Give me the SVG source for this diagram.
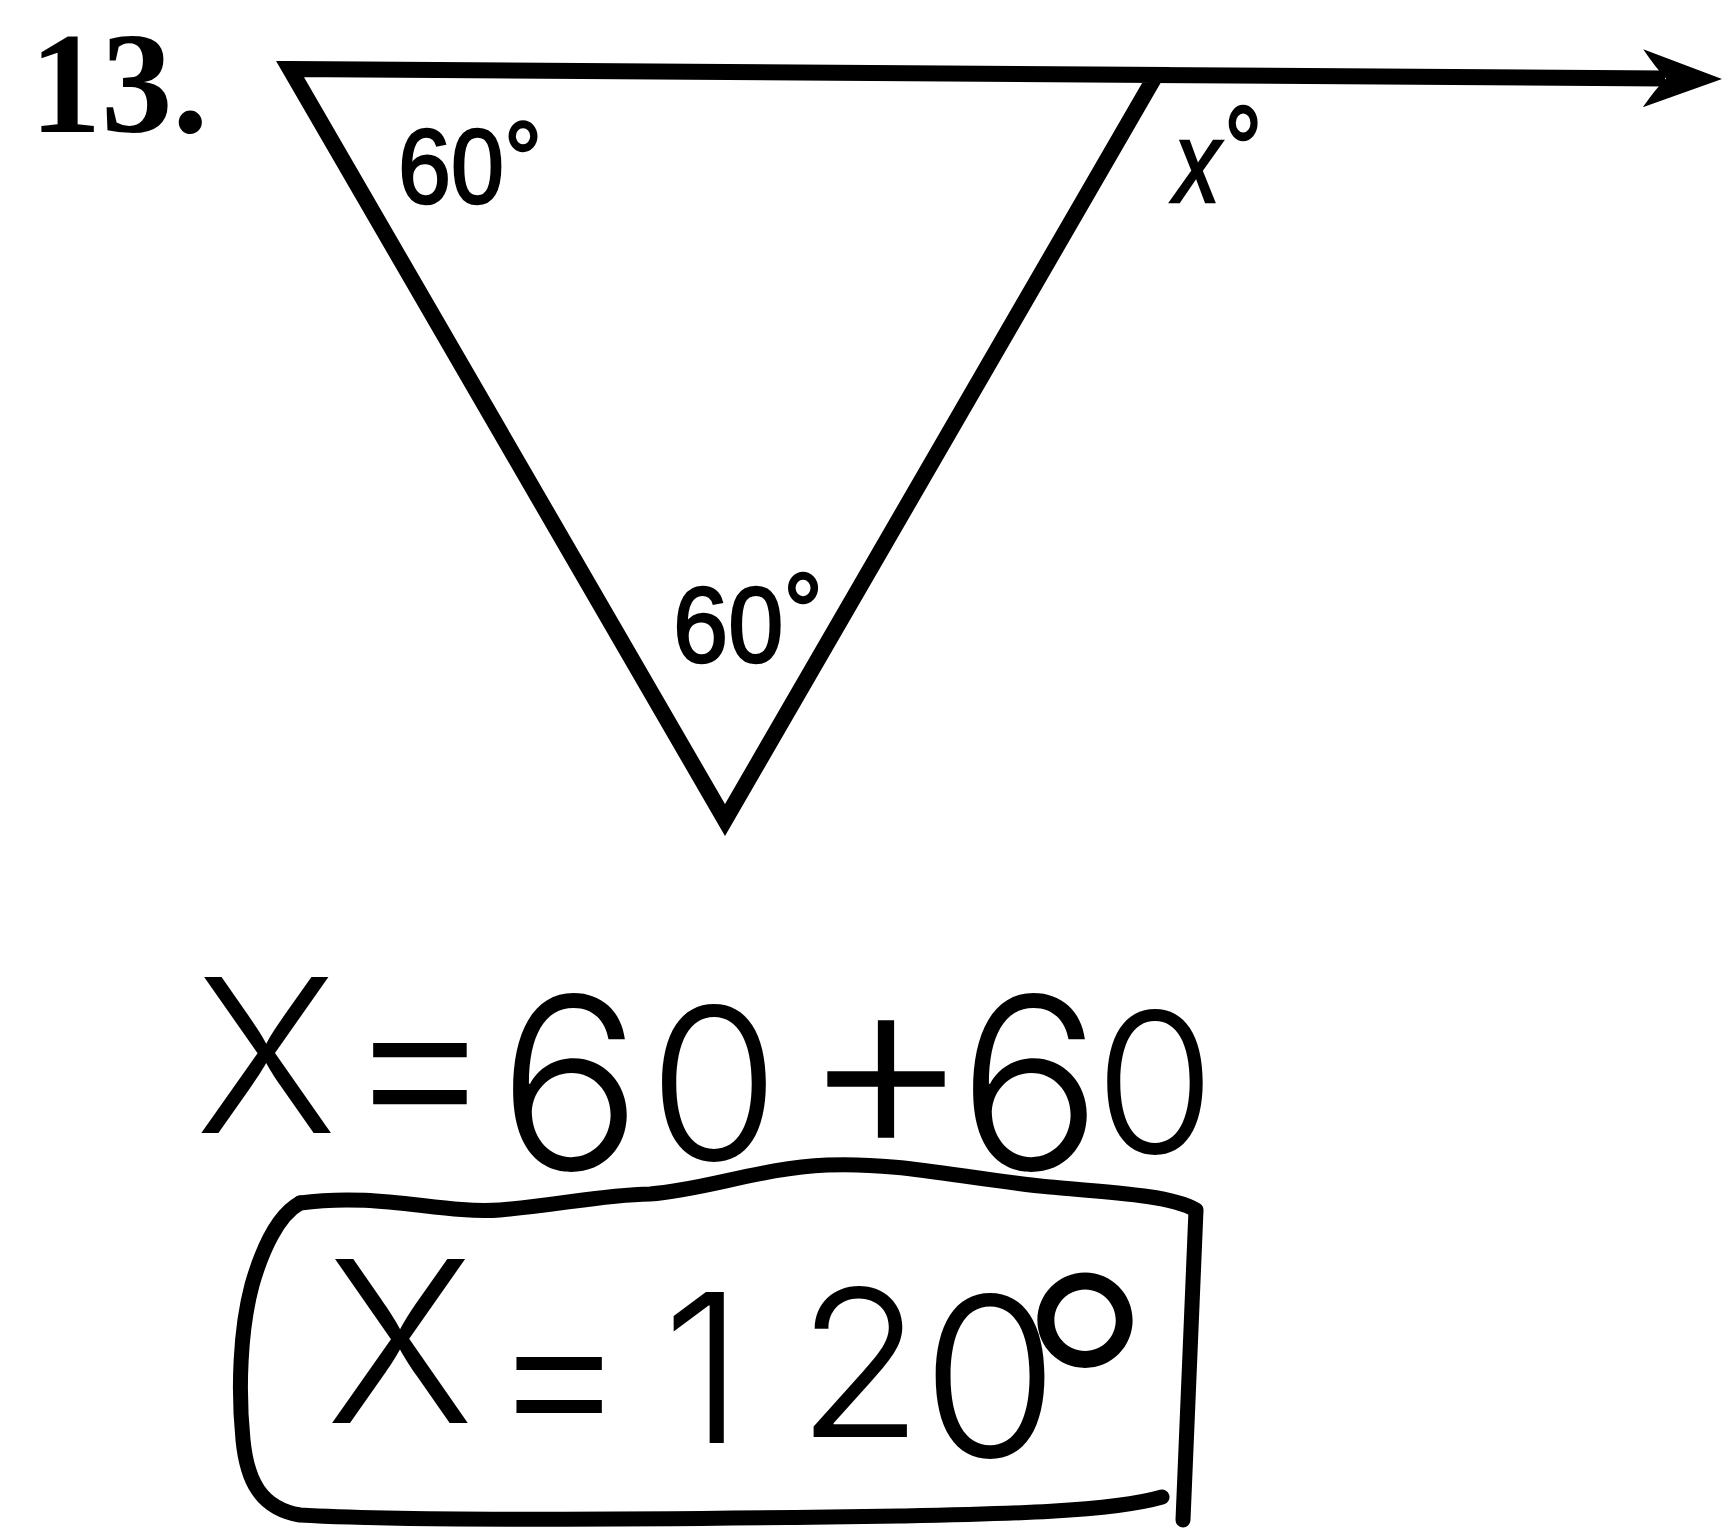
<svg xmlns="http://www.w3.org/2000/svg" width="1730" height="1533" viewBox="0 0 1730 1533">
  <style>
    .ln { fill: none; stroke: #000; stroke-width: 16; stroke-linejoin: miter; stroke-linecap: butt; }
    .box { fill: none; stroke: #000; stroke-width: 15; stroke-linejoin: round; stroke-linecap: round; }
    .num { font-family: "Liberation Serif", "Times New Roman", serif; font-weight: bold; fill: #000; }
    .lbl { font-family: "Liberation Sans", Arial, sans-serif; fill: #000; stroke: #000; stroke-width: 2.5; }
    .hand { font-family: Inter, "DejaVu Sans", sans-serif; font-weight: 300; fill: #000; }
  </style>
  <defs>
    <marker id="arrow" markerUnits="userSpaceOnUse" markerWidth="90" markerHeight="70" refX="-57" refY="0" orient="auto" viewBox="-85 -35 90 70">
      <path d="M 0 0 L -79 -29 Q -66 -10 -56 0 Q -66 10 -79 29 Z" fill="#000"/>
    </marker>
  </defs>
  <rect width="1730" height="1533" fill="#fff"/>

  <g id="problem-number">
    <text class="num" x="30" y="132" font-size="143" textLength="178" lengthAdjust="spacingAndGlyphs">13.</text>
  </g>

  <g id="triangle">
    <polygon class="ln" points="290,69 1156,75 725,820"/>
  </g>

  <g id="connectors">
    <line class="ln" x1="1150" y1="75" x2="1665" y2="78.5" marker-end="url(#arrow)"/>
  </g>

  <g id="angle-labels">
    <text class="lbl" x="398" y="203" font-size="106" textLength="144" lengthAdjust="spacingAndGlyphs">60<tspan dy="-8">°</tspan></text>
    <text class="lbl" x="673" y="662" font-size="108" textLength="150" lengthAdjust="spacingAndGlyphs">60<tspan dy="-14">°</tspan></text>
    <text class="lbl" font-size="115" font-style="italic" transform="translate(1174,202) scale(0.8,1)"><tspan x="0" y="0">x</tspan><tspan x="58" y="-11" font-size="120">°</tspan></text>
  </g>

  <g id="work-line1">
    <text class="hand" text-anchor="middle"><tspan x="266" y="1133" font-size="215">X</tspan><tspan x="420" y="1139" font-size="230">=</tspan><tspan x="570" y="1170" font-size="240">6</tspan><tspan x="714" y="1160" font-size="212">0</tspan><tspan x="886" y="1153" font-size="260">+</tspan><tspan x="1030" y="1170" font-size="240">6</tspan><tspan x="1155" y="1153" font-size="195">0</tspan></text>
  </g>

  <g id="answer-box">
    <path class="box" d="M 300 1203 C 380 1192 440 1214 500 1210 C 560 1205 600 1195 650 1194 C 705 1190 760 1168 827 1165 C 900 1162 960 1178 1050 1187 C 1120 1193 1172 1196 1196 1210 L 1183 1520"/>
    <path class="box" d="M 1162 1497 C 1110 1512 1000 1514 900 1516 C 700 1519 420 1522 300 1515 C 260 1508 247 1480 243 1440 C 238 1390 240 1330 252 1285 C 262 1250 278 1215 300 1203"/>
    <text class="hand" text-anchor="middle"><tspan x="400" y="1423" font-size="225">X</tspan><tspan x="559" y="1445" font-size="210">=</tspan><tspan x="703" y="1443" font-size="207">1</tspan><tspan x="860" y="1437" font-size="205">2</tspan><tspan x="990" y="1457" font-size="222">0</tspan><tspan x="1085" y="1493" font-size="300">°</tspan></text>
  </g>
</svg>
